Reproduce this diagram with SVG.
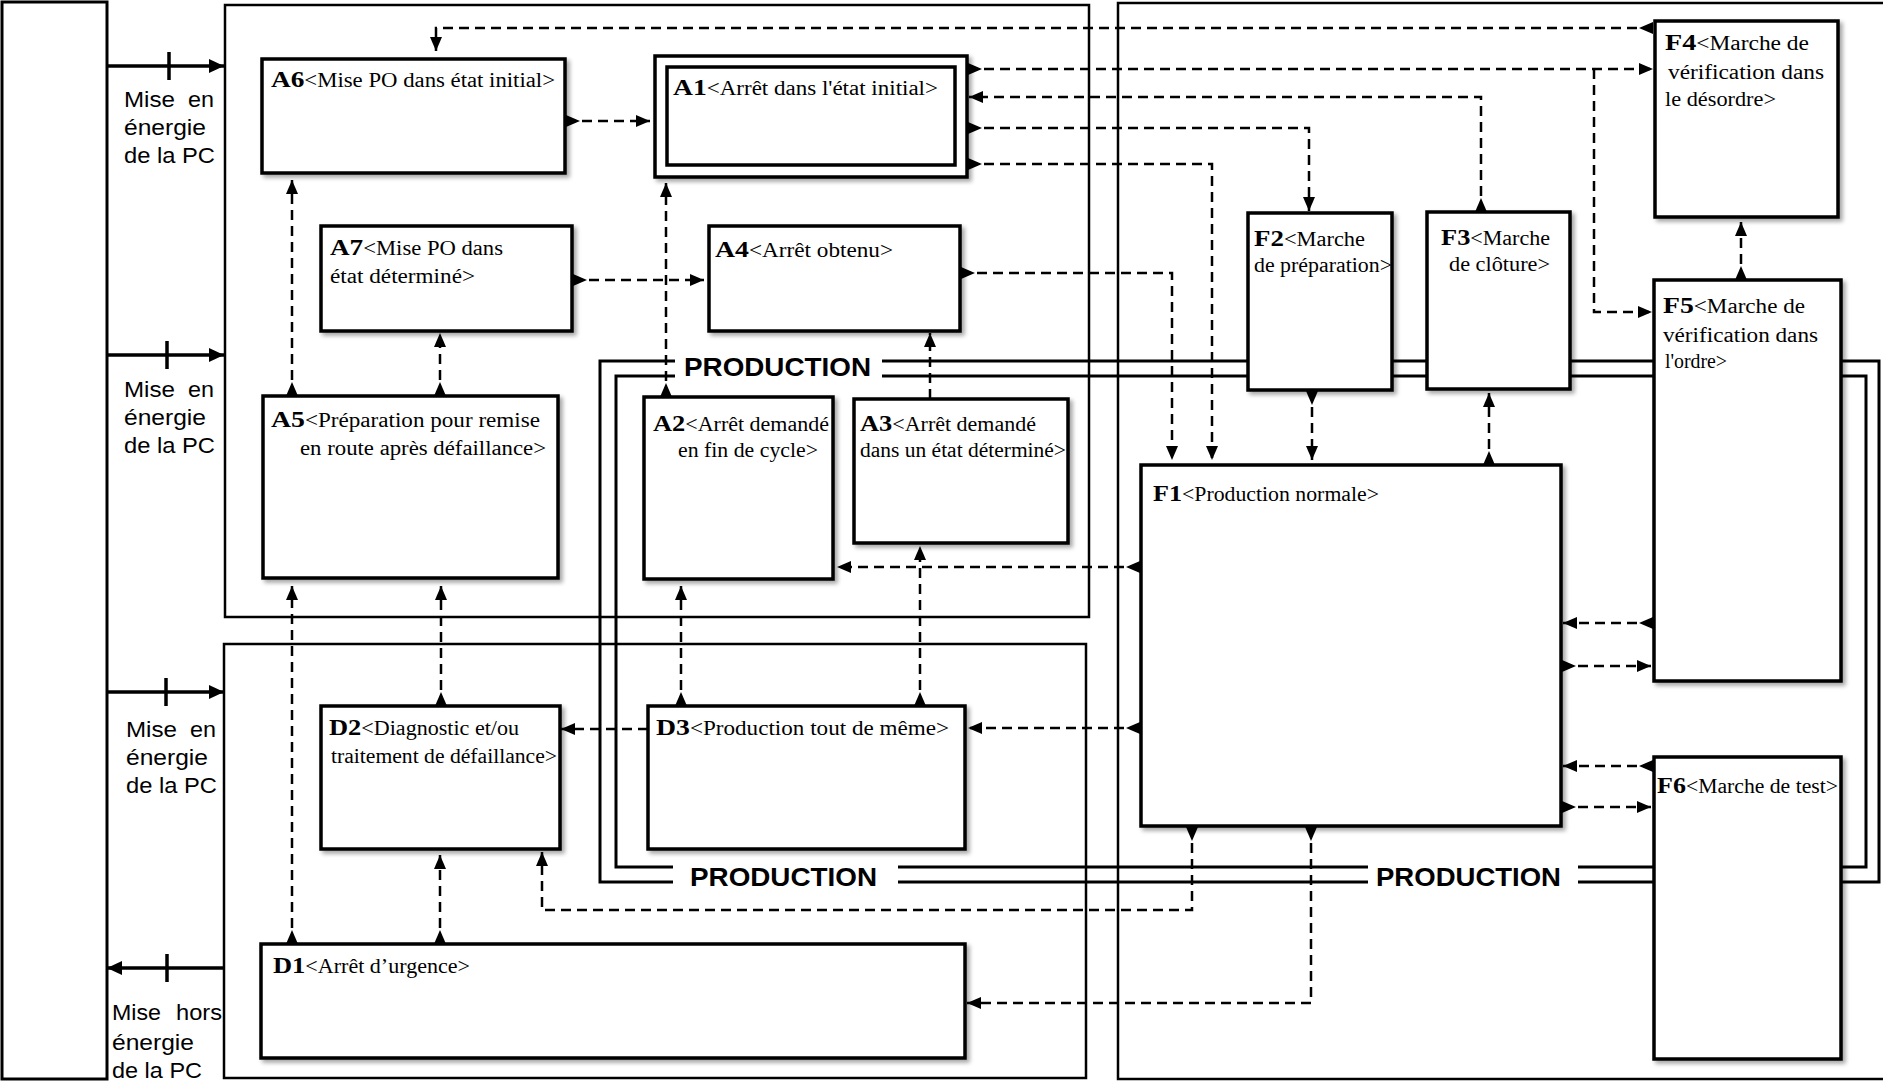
<svg xmlns="http://www.w3.org/2000/svg" width="1883" height="1081" viewBox="0 0 1883 1081">
<style>
.panel{fill:none;stroke:#000;stroke-width:2.5}
.node rect{fill:#fff;stroke:#000;stroke-width:3.5}
.sh{filter:url(#shadow)}
.loop{fill:none;stroke:#000;stroke-width:3}
.conn path.d{fill:none;stroke:#000;stroke-width:2.5;stroke-dasharray:10 6}
.conn path.s{fill:none;stroke:#000;stroke-width:3.5}
.lbl{font-family:"Liberation Serif","Times New Roman",serif;font-size:20px;fill:#000}
.code{font-weight:bold;font-size:24px}
.side{font-family:"Liberation Sans",Arial,sans-serif;font-size:22px;fill:#000}
.prod{font-family:"Liberation Sans",Arial,sans-serif;font-weight:bold;font-size:26px;fill:#000}
</style>
<defs>
<filter id="shadow" x="-10%" y="-10%" width="130%" height="130%">
<feDropShadow dx="3" dy="3" stdDeviation="2" flood-color="#000" flood-opacity="0.35"/>
</filter>
<marker id="ar" markerUnits="userSpaceOnUse" markerWidth="14" markerHeight="12" refX="14" refY="6" orient="auto"><path d="M0,0 L14,6 L0,12 z" fill="#000"/></marker>
<marker id="st" markerUnits="userSpaceOnUse" markerWidth="14" markerHeight="12" refX="0" refY="6" orient="auto"><path d="M0,0 L14,6 L0,12 z" fill="#000"/></marker>
<marker id="sar" markerUnits="userSpaceOnUse" markerWidth="15" markerHeight="14" refX="15" refY="7" orient="auto"><path d="M0,0 L15,7 L0,14 z" fill="#000"/></marker>
</defs>
<rect width="1883" height="1081" fill="#fff"/>

<g id="frames">
<rect class="panel" x="2" y="2" width="105" height="1077" style="stroke-width:3"/>
<rect class="panel" x="225" y="5" width="864" height="612"/>
<rect class="panel" x="224" y="644" width="862" height="434"/>
<rect class="panel" x="1118" y="3" width="790" height="1076"/>
</g>

<g id="production-loops">
<path class="loop" d="M675,361 H600 V882 H673 M898,882 H1368 M1578,882 H1879 V361 H882"/>
<path class="loop" d="M675,376 H616 V867 H673 M898,867 H1368 M1578,867 H1866 V376 H882"/>
<text class="prod" x="684" y="376" textLength="187" lengthAdjust="spacingAndGlyphs">PRODUCTION</text>
<text class="prod" x="690" y="886" textLength="187" lengthAdjust="spacingAndGlyphs">PRODUCTION</text>
<text class="prod" x="1376" y="886" textLength="185" lengthAdjust="spacingAndGlyphs">PRODUCTION</text>
</g>

<g id="A6" class="node"><rect class="sh" x="262" y="59" width="303" height="114"/>
<text class="lbl" x="271" y="87" textLength="284" lengthAdjust="spacingAndGlyphs"><tspan class="code">A6</tspan>&lt;Mise PO dans état initial&gt;</text></g>
<g id="A1" class="node"><rect class="sh" x="655" y="56" width="312" height="121"/><rect x="667" y="67" width="288" height="98"/>
<text class="lbl" x="673" y="95" textLength="265" lengthAdjust="spacingAndGlyphs"><tspan class="code">A1</tspan>&lt;Arrêt dans l'état initial&gt;</text></g>
<g id="A7" class="node"><rect class="sh" x="321" y="226" width="251" height="105"/>
<text class="lbl" x="330" y="255" textLength="173" lengthAdjust="spacingAndGlyphs"><tspan class="code">A7</tspan>&lt;Mise PO dans</text>
<text class="lbl" x="330" y="283" textLength="145" lengthAdjust="spacingAndGlyphs">état déterminé&gt;</text></g>
<g id="A4" class="node"><rect class="sh" x="709" y="226" width="251" height="105"/>
<text class="lbl" x="715" y="257" textLength="178" lengthAdjust="spacingAndGlyphs"><tspan class="code">A4</tspan>&lt;Arrêt obtenu&gt;</text></g>
<g id="A5" class="node"><rect class="sh" x="263" y="396" width="295" height="182"/>
<text class="lbl" x="271" y="427" textLength="269" lengthAdjust="spacingAndGlyphs"><tspan class="code">A5</tspan>&lt;Préparation pour remise</text>
<text class="lbl" x="300" y="455" textLength="246" lengthAdjust="spacingAndGlyphs">en route après défaillance&gt;</text></g>
<g id="A2" class="node"><rect class="sh" x="644" y="397" width="189" height="182"/>
<text class="lbl" x="653" y="431" textLength="176" lengthAdjust="spacingAndGlyphs"><tspan class="code">A2</tspan>&lt;Arrêt demandé</text>
<text class="lbl" x="678" y="457" textLength="140" lengthAdjust="spacingAndGlyphs">en fin de cycle&gt;</text></g>
<g id="A3" class="node"><rect class="sh" x="854" y="399" width="214" height="144"/>
<text class="lbl" x="860" y="431" textLength="176" lengthAdjust="spacingAndGlyphs"><tspan class="code">A3</tspan>&lt;Arrêt demandé</text>
<text class="lbl" x="860" y="457" textLength="206" lengthAdjust="spacingAndGlyphs">dans un état déterminé&gt;</text></g>
<g id="D2" class="node"><rect class="sh" x="321" y="706" width="239" height="143"/>
<text class="lbl" x="329" y="735" textLength="190" lengthAdjust="spacingAndGlyphs"><tspan class="code">D2</tspan>&lt;Diagnostic et/ou</text>
<text class="lbl" x="331" y="763" textLength="226" lengthAdjust="spacingAndGlyphs">traitement de défaillance&gt;</text></g>
<g id="D3" class="node"><rect class="sh" x="648" y="706" width="317" height="143"/>
<text class="lbl" x="656" y="735" textLength="293" lengthAdjust="spacingAndGlyphs"><tspan class="code">D3</tspan>&lt;Production tout de même&gt;</text></g>
<g id="D1" class="node"><rect class="sh" x="261" y="944" width="704" height="114"/>
<text class="lbl" x="273" y="973" textLength="197" lengthAdjust="spacingAndGlyphs"><tspan class="code">D1</tspan>&lt;Arrêt d’urgence&gt;</text></g>
<g id="F1" class="node"><rect class="sh" x="1141" y="465" width="420" height="361"/>
<text class="lbl" x="1153" y="501" textLength="226" lengthAdjust="spacingAndGlyphs"><tspan class="code">F1</tspan>&lt;Production normale&gt;</text></g>
<g id="F2" class="node"><rect class="sh" x="1248" y="213" width="144" height="177"/>
<text class="lbl" x="1254" y="246" textLength="111" lengthAdjust="spacingAndGlyphs"><tspan class="code">F2</tspan>&lt;Marche</text>
<text class="lbl" x="1254" y="272" textLength="138" lengthAdjust="spacingAndGlyphs">de préparation&gt;</text></g>
<g id="F3" class="node"><rect class="sh" x="1427" y="212" width="143" height="177"/>
<text class="lbl" x="1441" y="245" textLength="109" lengthAdjust="spacingAndGlyphs"><tspan class="code">F3</tspan>&lt;Marche</text>
<text class="lbl" x="1449" y="271" textLength="101" lengthAdjust="spacingAndGlyphs">de clôture&gt;</text></g>
<g id="F4" class="node"><rect class="sh" x="1655" y="21" width="183" height="196"/>
<text class="lbl" x="1665" y="50" textLength="144" lengthAdjust="spacingAndGlyphs"><tspan class="code">F4</tspan>&lt;Marche de</text>
<text class="lbl" x="1668" y="79" textLength="156" lengthAdjust="spacingAndGlyphs">vérification dans</text>
<text class="lbl" x="1665" y="106" textLength="111" lengthAdjust="spacingAndGlyphs">le désordre&gt;</text></g>
<g id="F5" class="node"><rect class="sh" x="1654" y="280" width="187" height="401"/>
<text class="lbl" x="1663" y="313" textLength="142" lengthAdjust="spacingAndGlyphs"><tspan class="code">F5</tspan>&lt;Marche de</text>
<text class="lbl" x="1663" y="342" textLength="155" lengthAdjust="spacingAndGlyphs">vérification dans</text>
<text class="lbl" x="1665" y="368" textLength="62" lengthAdjust="spacingAndGlyphs">l'ordre&gt;</text></g>
<g id="F6" class="node"><rect class="sh" x="1654" y="757" width="187" height="302"/>
<text class="lbl" x="1657" y="793" textLength="181" lengthAdjust="spacingAndGlyphs"><tspan class="code">F6</tspan>&lt;Marche de test&gt;</text></g>

<g id="side-labels">
<text class="side" x="124" y="107" textLength="51" lengthAdjust="spacingAndGlyphs">Mise</text><text class="side" x="188" y="107" textLength="26" lengthAdjust="spacingAndGlyphs">en</text>
<text class="side" x="124" y="135" textLength="82" lengthAdjust="spacingAndGlyphs">énergie</text>
<text class="side" x="124" y="163" textLength="91" lengthAdjust="spacingAndGlyphs">de la PC</text>
<text class="side" x="124" y="397" textLength="51" lengthAdjust="spacingAndGlyphs">Mise</text><text class="side" x="188" y="397" textLength="26" lengthAdjust="spacingAndGlyphs">en</text>
<text class="side" x="124" y="425" textLength="82" lengthAdjust="spacingAndGlyphs">énergie</text>
<text class="side" x="124" y="453" textLength="91" lengthAdjust="spacingAndGlyphs">de la PC</text>
<text class="side" x="126" y="737" textLength="51" lengthAdjust="spacingAndGlyphs">Mise</text><text class="side" x="190" y="737" textLength="26" lengthAdjust="spacingAndGlyphs">en</text>
<text class="side" x="126" y="765" textLength="82" lengthAdjust="spacingAndGlyphs">énergie</text>
<text class="side" x="126" y="793" textLength="91" lengthAdjust="spacingAndGlyphs">de la PC</text>
<text class="side" x="112" y="1020" textLength="49" lengthAdjust="spacingAndGlyphs">Mise</text><text class="side" x="176" y="1020" textLength="46" lengthAdjust="spacingAndGlyphs">hors</text>
<text class="side" x="112" y="1050" textLength="82" lengthAdjust="spacingAndGlyphs">énergie</text>
<text class="side" x="112" y="1078" textLength="90" lengthAdjust="spacingAndGlyphs">de la PC</text>
</g>

<g id="connectors" class="conn">
<path class="s" d="M107,66 H224" marker-end="url(#sar)"/><path class="s" d="M169,52 V80"/>
<path class="s" d="M107,355 H224" marker-end="url(#sar)"/><path class="s" d="M167,341 V369"/>
<path class="s" d="M107,692 H224" marker-end="url(#sar)"/><path class="s" d="M166,678 V706"/>
<path class="s" d="M224,968 H107" marker-end="url(#sar)"/><path class="s" d="M167,954 V982"/>

<path class="d" d="M1653,28 H436 V51" marker-start="url(#st)" marker-end="url(#ar)"/>
<path class="d" d="M566,121 H650" marker-start="url(#st)" marker-end="url(#ar)"/>
<path class="d" d="M968,69 H1653" marker-start="url(#st)" marker-end="url(#ar)"/>
<path class="d" d="M1594,69 V312 H1652" marker-end="url(#ar)"/>
<path class="d" d="M1481,212 V97 H969" marker-start="url(#st)" marker-end="url(#ar)"/>
<path class="d" d="M968,128 H1309 V211" marker-start="url(#st)" marker-end="url(#ar)"/>
<path class="d" d="M968,164 H1212 V460" marker-start="url(#st)" marker-end="url(#ar)"/>
<path class="d" d="M961,273 H1172 V460" marker-start="url(#st)" marker-end="url(#ar)"/>
<path class="d" d="M573,280 H704" marker-start="url(#st)" marker-end="url(#ar)"/>
<path class="d" d="M292,396 V180" marker-start="url(#st)" marker-end="url(#ar)"/>
<path class="d" d="M440,396 V333" marker-start="url(#st)" marker-end="url(#ar)"/>
<path class="d" d="M666,397 V183" marker-start="url(#st)" marker-end="url(#ar)"/>
<path class="d" d="M930,399 V333" marker-end="url(#ar)"/>
<path class="d" d="M1140,567 H837" marker-start="url(#st)" marker-end="url(#ar)"/>
<path class="d" d="M920,706 V546" marker-start="url(#st)" marker-end="url(#ar)"/>
<path class="d" d="M681,706 V586" marker-start="url(#st)" marker-end="url(#ar)"/>
<path class="d" d="M1140,728 H968" marker-start="url(#st)" marker-end="url(#ar)"/>
<path class="d" d="M648,729 H561" marker-end="url(#ar)"/>
<path class="d" d="M292,944 V586" marker-start="url(#st)" marker-end="url(#ar)"/>
<path class="d" d="M441,706 V586" marker-start="url(#st)" marker-end="url(#ar)"/>
<path class="d" d="M440,944 V855" marker-start="url(#st)" marker-end="url(#ar)"/>
<path class="d" d="M1192,827 V910 H542 V852" marker-start="url(#st)" marker-end="url(#ar)"/>
<path class="d" d="M1311,827 V1003 H967" marker-start="url(#st)" marker-end="url(#ar)"/>
<path class="d" d="M1312,391 V460" marker-start="url(#st)" marker-end="url(#ar)"/>
<path class="d" d="M1489,465 V393" marker-start="url(#st)" marker-end="url(#ar)"/>
<path class="d" d="M1741,280 V222" marker-start="url(#st)" marker-end="url(#ar)"/>
<path class="d" d="M1653,623 H1563" marker-start="url(#st)" marker-end="url(#ar)"/>
<path class="d" d="M1562,666 H1651" marker-start="url(#st)" marker-end="url(#ar)"/>
<path class="d" d="M1653,766 H1563" marker-start="url(#st)" marker-end="url(#ar)"/>
<path class="d" d="M1562,807 H1651" marker-start="url(#st)" marker-end="url(#ar)"/>
</g>
</svg>
